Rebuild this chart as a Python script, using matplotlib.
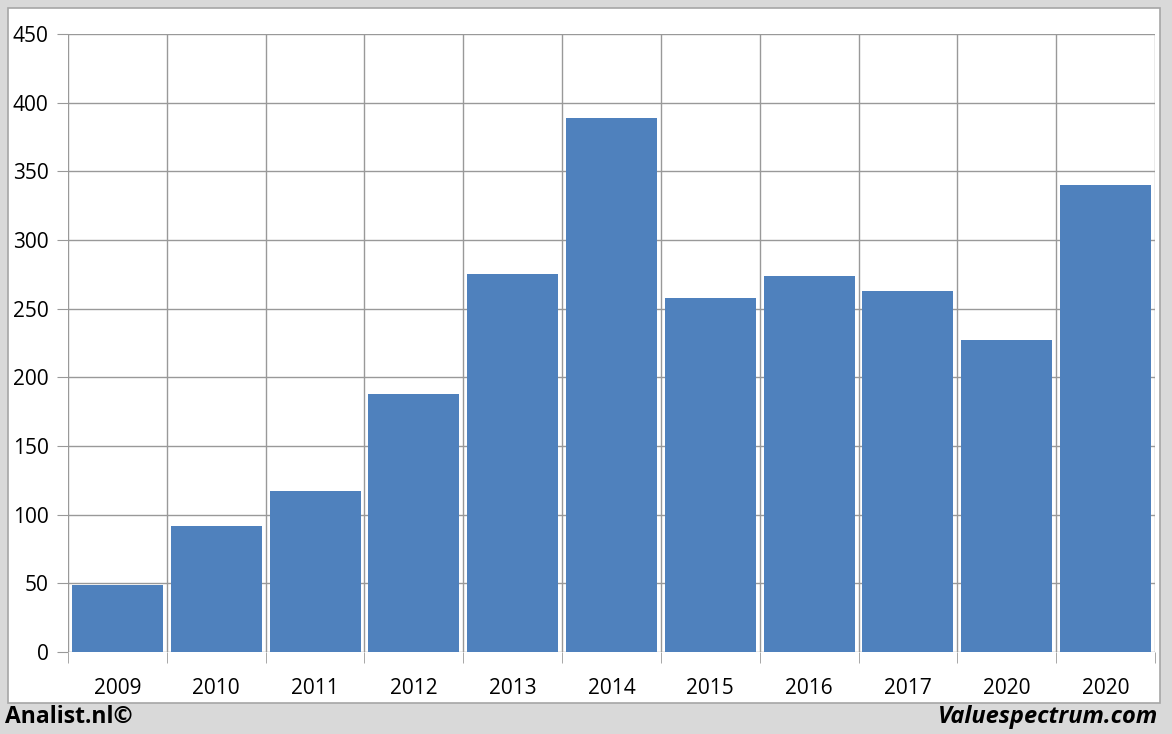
import matplotlib.pyplot as plt
from matplotlib.patches import Rectangle
import numpy as np

# data
years = ['2009', '2010', '2011', '2012', '2013', '2014',
         '2015', '2016', '2017', '2020', '2020']
values = [49, 92, 117, 188, 275, 389, 258, 274, 263, 227, 340]
y_ticks = [0, 50, 100, 150, 200, 250, 300, 350, 400, 450]

W, H = 1172, 734
fig = plt.figure(figsize=(W / 100, H / 100), dpi=100)
fig.patch.set_facecolor('#d9d9d9')

# white panel with thin border
panel = Rectangle((8 / W, 1 - 703 / H), (1160 - 8) / W, (703 - 8) / H,
                  transform=fig.transFigure, facecolor='white',
                  edgecolor='#a6a6a6', linewidth=1.2, zorder=-1)
fig.patches.append(panel)

ax = fig.add_axes([68 / W, 1 - 652 / H, (1155 - 68) / W, (652 - 34) / H])
ax.set_zorder(1)
ax.set_facecolor('white')

x = np.arange(len(years))
ax.bar(x, values, width=0.92, color='#4f81bd', zorder=3)

ax.set_xlim(-0.5, len(years) - 0.5)
ax.set_ylim(0, 450)
ax.set_yticks(y_ticks)
ax.set_yticklabels([str(t) for t in y_ticks])

# vertical gridlines at category boundaries, horizontal at y ticks
for b in np.arange(-0.5, len(years) + 0.5, 1):
    ax.axvline(b, color='#999999', linewidth=1, zorder=1)
for t in y_ticks:
    ax.axhline(t, color='#999999', linewidth=1, zorder=1)

ax.set_xticks(x)
ax.set_xticklabels(years)
ax.set_xticks(np.arange(-0.5, len(years) + 0.5, 1), minor=True)
ax.tick_params(axis='x', which='major', length=0, pad=19)
ax.tick_params(axis='x', which='minor', length=8, color='#999999')
ax.tick_params(axis='y', length=8, color='#999999', pad=6)
for lbl in ax.get_xticklabels() + ax.get_yticklabels():
    lbl.set_fontsize(15)
    lbl.set_fontfamily('Open Sans')

for s in ax.spines.values():
    s.set_visible(False)

fig.text(5 / W, 1 - 717 / H, 'Analist.nl©', fontsize=16.5, fontweight='bold',
         family='Open Sans', ha='left', va='center')
fig.text(1158 / W, 1 - 717 / H, 'Valuespectrum.com', fontsize=17,
         fontweight='bold', fontstyle='italic', family='Open Sans',
         ha='right', va='center')

fig.savefig('out.png', dpi=100, facecolor=fig.get_facecolor())
